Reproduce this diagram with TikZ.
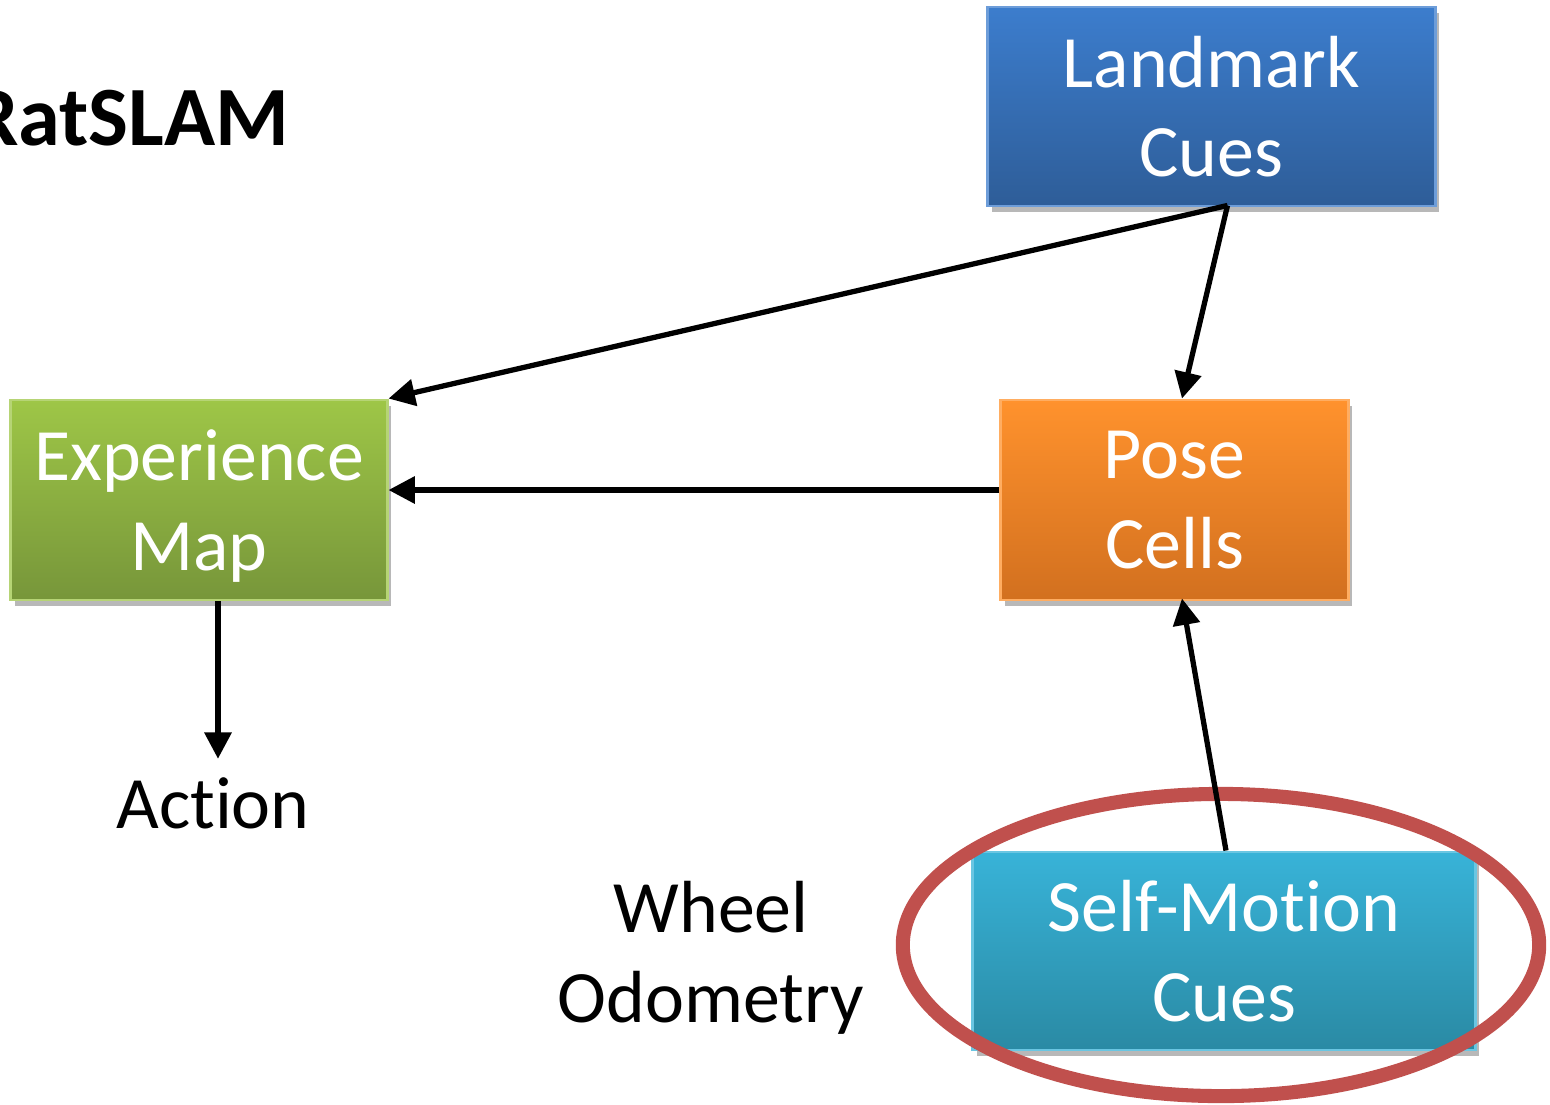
\documentclass[tikz,border=0pt]{standalone}
\usepackage{fontspec}
\setmainfont{Carlito}[Ligatures=NoCommon]
\usetikzlibrary{arrows.meta,shadows,calc}

\definecolor{blueTop}{HTML}{3C7DCD}
\definecolor{blueBot}{HTML}{2E5D98}
\definecolor{greenTop}{HTML}{9EC647}
\definecolor{greenBot}{HTML}{77963A}
\definecolor{orangeTop}{HTML}{FF922D}
\definecolor{orangeBot}{HTML}{D2701F}
\definecolor{cyanTop}{HTML}{38B3D8}
\definecolor{cyanBot}{HTML}{2A8AA4}
\definecolor{ringRed}{HTML}{C0504D}

\begin{document}
\begin{tikzpicture}[x=0.01cm,y=-0.01cm,
  cuebox/.style={rectangle, inner sep=0pt, align=center, text=white,
    font=\fontsize{21}{25.5}\selectfont, line width=0.8pt,
    drop shadow={shadow xshift=1.2pt, shadow yshift=-1.8pt, opacity=0.28, fill=black}},
  bluebox/.style={cuebox, top color=blueTop, bottom color=blueBot, draw=blueTop!75!white},
  greenbox/.style={cuebox, top color=greenTop, bottom color=greenBot, draw=greenTop!75!white},
  orangebox/.style={cuebox, top color=orangeTop, bottom color=orangeBot, draw=orangeTop!75!white},
  cyanbox/.style={cuebox, top color=cyanTop, bottom color=cyanBot, draw=cyanTop!75!white},
  plain/.style={align=center, text=black, font=\fontsize{21}{25.5}\selectfont},
  conn/.style={-{Triangle[length=7.5pt,width=7.5pt]}, line width=1.5pt, black}]

\useasboundingbox (0,0) rectangle (1550,1105);
\clip (0,0) rectangle (1550,1105);

% title
\node[anchor=base east, inner sep=0pt, font=\fontsize{24}{28}\selectfont\bfseries] (title) at (290,145) {RatSLAM};

% processing blocks
\node[bluebox, minimum width=4.47cm, minimum height=1.99cm] (lm) at (1211.5,106.5) {Landmark\\Cues};
\node[greenbox, minimum width=3.76cm, minimum height=2.00cm, text depth=0pt] (ex) at (199,500) {Experience\\Map};
\node[orangebox, minimum width=3.47cm, minimum height=2.00cm] (pc) at (1174.5,500) {Pose\\Cells};
\node[cyanbox, minimum width=5.02cm, minimum height=1.98cm] (sm) at (1224,951) {Self-Motion\\Cues};

% free labels
\node[plain, anchor=base] (act) at (213,828) {Action};
\node[plain] (wo) at (711,958) {Wheel\\Odometry};

% highlight ring around the self-motion input
\draw[ringRed, line width=4pt] (1221,945) ellipse [x radius=3.18cm, y radius=1.51cm];

% connections
\coordinate (lmOut) at ($(lm.south)+(16,-2)$);
\draw[conn] (lmOut) -- (ex.north east);
\draw[conn] (lmOut) -- ($(pc.north)+(7.5,0)$);
\draw[conn] ($(pc.west)+(0,-10)$) -- ($(ex.east)+(0,-10)$);
\draw[conn] ($(ex.south)+(19,0)$) -- ($(act.north)+(5,-6)$);
\draw[conn] ($(sm.north)+(2,0)$) -- ($(pc.south)+(7.5,-3)$);
\end{tikzpicture}
\end{document}
